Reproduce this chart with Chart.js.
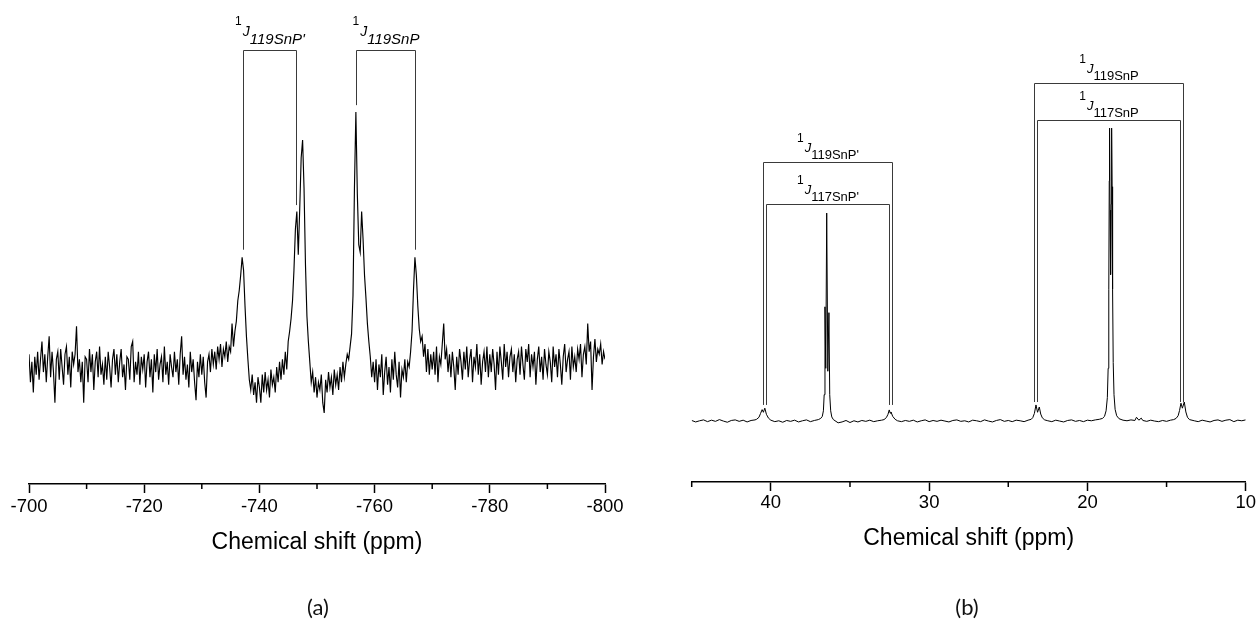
<!DOCTYPE html>
<html>
<head>
<meta charset="utf-8">
<script src="https://cdn.jsdelivr.net/npm/chart.js@4.4.1/dist/chart.umd.min.js"></script>
<style>
  body { margin: 0; background: #fff; width: 1258px; height: 623px; position: relative; overflow: hidden; }
  .panel { position: absolute; top: 0; width: 629px; height: 623px; }
  .tag { position: absolute; top: 593px; line-height: 28px; font-family: Lato, 'Open Sans', sans-serif; font-size: 22px; color: #111; transform: translateX(-50%); }
</style>
</head>
<body>
<div class="panel" style="left:0"><canvas id="chartA"></canvas></div>
<div class="panel" style="left:629px"><canvas id="chartB"></canvas></div>
<div class="tag" style="left:318px">(a)</div>
<div class="tag" style="left:967px">(b)</div>
<script>
// (a) 119Sn spectrum, sampled every 0.25 ppm from -700 ppm
const shiftStartA = -700;
const shiftStepA = -0.25;
const intensityA = [
  5, -6, 2, -10, 4, -3, 6, -5, 3, 10, -2, 5, -6, 4, 12, -4, 6, -2, -14, 3,      // -700
  6, -5, 7, 0, -7, 5, 8, -3, 4, -8, 6, 1, 5, 16, -2, 3, -6, 2, -14, 4,          // -705
  3, -6, 7, -2, 5, -9, 2, 6, -4, 8, -3, 1, -7, 4, -5, 6, 0, -8, 3, 7,           // -710
  -3, 5, -6, 2, 7, -4, 1, -9, 4, 3, -5, 8, 10, -6, 2, -3, 6, -7, 4, -1,         // -715
  5, -8, 2, 6, -4, 3, -10, 5, -2, 7, -5, 1, 4, -6, 8, -3, 2, -7, 5, 0,          // -720
  -4, 6, -2, 3, -7, 5, 12, -3, 4, -5, 1, -8, 6, -2, 3, -6, -13, 2, -4, 5,       // -725
  -3, 4, -6, -12, 2, 5, -2, 7, 1, 6, -1, 8, 3, 9, 0, 7, 4, 10, 2, 8,            // -730
  6, 17, 8, 14, 18, 26, 30, 36, 43, 38, 24, 12, 3, -5, -9, -3, -11, -6, -14, -4, // -735
  -8, -14, -3, -10, -2, -9, -5, -12, -1, -7, -4, -10, 0, -6, 2, -5, 3, -3, 6, -1, // -740
  10, 14, 19, 26, 38, 54, 61, 44, 62, 82, 89, 70, 40, 20, 10, 2, -6, -2, -10, -4, // -745
  -12, -6, -9, -3, -14, -18, -5, -10, -2, -8, -4, -11, -1, -7, -3, -9, 0, -6, 2, -4, // -750
  1, 5, 3, 8, 13, 28, 70, 100, 68, 48, 45, 61, 50, 36, 27, 17, 10, 4, -4, 2,    // -755
  -6, 3, -9, 1, -4, 5, -11, -2, 4, -7, 0, -10, 3, -5, 6, -3, -8, 2, -12, -1,    // -760
  -4, 3, -6, 2, 0, 6, 14, 30, 43, 36, 24, 15, 10, 12, 4, 9, -2, 7, -3, 5,       // -765
  -1, 6, -3, 8, -6, 4, 1, 9, 17, 3, 7, -2, 5, -4, 6, 0, -9, 4, -3, 7,           // -770
  2, -5, 6, -1, 8, -4, 3, 7, -6, 4, 0, 9, -3, 5, -7, 2, 6, -2, 8, -4,           // -775
  5, -2, 7, 1, -9, 6, -3, 8, 2, -5, 9, 0, 6, -4, 4, 7, -2, 5, -6, 3,            // -780
  6, -3, 8, 1, -5, 7, 2, 9, -4, 5, 0, 6, -7, 3, 8, -2, 4, -5, 7, 1,             // -785
  -3, 6, 2, -6, 8, 0, 5, -4, 7, 1, -7, 4, 9, -2, 3, 6, -5, 8, 0, 4,             // -790
  -2, 7, 3, 9, -4, 5, 8, 1, 17, 6, 10, -9, 4, 11, 2, 7, 5, 9, 1, 6,             // -795
  3                                                                              // -800
];
const ticksA = [-700, -720, -740, -760, -780, -800];
const minorTicksA = [-710, -730, -750, -770, -790];
const couplingsA = [
  { label: "119SnP'", from: -737.1, to: -746.4, top: 124.3, fromEnd: 46, toEnd: 63.5 },
  { label: '119SnP', from: -756.7, to: -767.1, top: 124.3, fromEnd: 102.7, toEnd: 46 }
];

// (b) 31P spectrum, [ppm, intensity]
const spectrumB = [
  [45.00, 0.2], [44.75, -0.3], [44.50, 0.1], [44.25, 0.4], [44.00, -0.2], [43.75, 0.3], [43.50, -0.1],
  [43.25, 0.5], [43.00, 0.0], [42.75, -0.4], [42.50, 0.2], [42.25, 0.4], [42.00, -0.1], [41.75, 0.3],
  [41.50, -0.3], [41.25, 0.2], [41.00, 0.4],
  [40.90, 0.6], [40.75, 1.3], [40.65, 2.6], [40.55, 3.9], [40.47, 3.0], [40.38, 4.4], [40.28, 2.3],
  [40.15, 1.0], [40.00, 0.3],
  [39.75, -0.2], [39.50, 0.1], [39.25, -0.4], [39.00, 0.2], [38.75, -0.1], [38.50, 0.3], [38.25, -0.3],
  [38.00, 0.1], [37.75, 0.4], [37.50, -0.2], [37.25, 0.2], [37.00, 0.5],
  [36.85, 0.9], [36.75, 1.6], [36.68, 3.5], [36.63, 9], [36.58, 39], [36.53, 18], [36.47, 71],
  [36.40, 17], [36.33, 37], [36.28, 9], [36.22, 3.5], [36.15, 1.4], [36.05, 0.5],
  [35.75, -0.6], [35.50, -0.3], [35.25, 0.2], [35.00, -0.5], [34.75, 0.1], [34.50, -0.3], [34.25, 0.2],
  [34.00, -0.1], [33.75, 0.3], [33.50, -0.2], [33.25, 0.1], [33.00, 0.3],
  [32.85, 0.5], [32.70, 1.2], [32.60, 2.3], [32.52, 3.8], [32.46, 2.7], [32.41, 3.1], [32.30, 1.6],
  [32.15, 0.6], [32.00, 0.1],
  [31.75, -0.2], [31.50, 0.2], [31.25, -0.1], [31.00, 0.3], [30.75, -0.3], [30.50, 0.1], [30.25, 0.4],
  [30.00, -0.2], [29.75, 0.2], [29.50, -0.1], [29.25, 0.3], [29.00, 0.0], [28.75, -0.3], [28.50, 0.2],
  [28.25, 0.4], [28.00, -0.1], [27.75, 0.1], [27.50, -0.3], [27.25, 0.3], [27.00, 0.1], [26.75, -0.2],
  [26.50, 0.4], [26.25, 0.0], [26.00, -0.3], [25.75, 0.2], [25.50, 0.5], [25.25, -0.1], [25.00, 0.2],
  [24.75, -0.2], [24.50, 0.3], [24.25, 0.1], [24.00, -0.2], [23.75, 0.3],
  [23.55, 0.6], [23.45, 1.2], [23.35, 2.6], [23.25, 5.5], [23.15, 3.0], [23.04, 4.8], [22.95, 2.4],
  [22.85, 1.1], [22.70, 0.4],
  [22.50, 0.1], [22.25, -0.2], [22.00, 0.3], [21.75, 0.0], [21.50, -0.3], [21.25, 0.2], [21.00, 0.4],
  [20.75, -0.1], [20.50, 0.2], [20.25, -0.2], [20.00, 0.3], [19.75, 0.1], [19.50, 0.4], [19.25, 0.6],
  [19.05, 0.9], [18.92, 1.6], [18.82, 3.5], [18.74, 8], [18.69, 18], [18.65, 45], [18.62, 82],
  [18.60, 100], [18.57, 72], [18.535, 50], [18.50, 74], [18.47, 100], [18.44, 80], [18.41, 45],
  [18.37, 20], [18.32, 9], [18.25, 4], [18.15, 1.8], [18.00, 0.8],
  [17.75, 0.3], [17.50, 0.1], [17.25, 0.4], [17.00, 0.2], [16.90, 1.3], [16.75, 0.3], [16.60, 1.0],
  [16.50, 0.2], [16.25, -0.1], [16.00, 0.3], [15.75, 0.0], [15.50, -0.2], [15.25, 0.2], [15.00, -0.1],
  [14.75, 0.3], [14.55, 0.5],
  [14.40, 0.9], [14.27, 1.8], [14.18, 3.6], [14.09, 6.1], [14.00, 4.4], [13.88, 6.5], [13.78, 3.1],
  [13.68, 1.3], [13.55, 0.5],
  [13.25, 0.1], [13.00, -0.2], [12.75, 0.3], [12.50, 0.0], [12.25, -0.3], [12.00, 0.2], [11.75, 0.4],
  [11.50, -0.1], [11.25, 0.3], [11.00, 0.5], [10.75, -0.2], [10.50, 0.3], [10.25, 0.1], [10.00, 0.4]
];
const ticksB = [40, 30, 20, 10];
const minorTicksB = [45, 35, 25, 15];
const couplingsB = [
  { label: "119SnP'", from: 40.52, to: 32.35, top: 88.4, fromEnd: 5.5, toEnd: 5.5 },
  { label: "117SnP'", from: 40.33, to: 32.52, top: 74.1, fromEnd: 5.5, toEnd: 5.5 },
  { label: '119SnP', from: 23.38, to: 13.95, top: 115.4, fromEnd: 6.5, toEnd: 6.5 },
  { label: '117SnP', from: 23.19, to: 14.13, top: 102.7, fromEnd: 6.5, toEnd: 6.5 }
];

const FONT = "'Liberation Sans', Arial, sans-serif";
Chart.defaults.font.family = FONT;

// brackets with 1J labels + short minor ticks
const nmrMarks = {
  id: 'nmrMarks',
  afterDraw(chart, args, opts) {
    const { ctx, scales: { x, y } } = chart;
    ctx.save();
    // minor ticks
    ctx.strokeStyle = '#000';
    ctx.lineWidth = 1.5;
    opts.minor.forEach(v => {
      const px = x.getPixelForValue(v);
      ctx.beginPath();
      ctx.moveTo(px, x.top);
      ctx.lineTo(px, x.top + 5);
      ctx.stroke();
    });
    // coupling brackets
    const L = opts.label;
    opts.brackets.forEach(b => {
      const x1 = Math.round(x.getPixelForValue(b.from)) + 0.5;
      const x2 = Math.round(x.getPixelForValue(b.to)) + 0.5;
      const yt = Math.round(y.getPixelForValue(b.top)) + 0.5;
      ctx.strokeStyle = '#3a3a3a';
      ctx.lineWidth = 1;
      ctx.beginPath();
      ctx.moveTo(x1, y.getPixelForValue(b.fromEnd));
      ctx.lineTo(x1, yt);
      ctx.lineTo(x2, yt);
      ctx.lineTo(x2, y.getPixelForValue(b.toEnd));
      ctx.stroke();

      ctx.fillStyle = '#000';
      ctx.textBaseline = 'alphabetic';
      ctx.textAlign = 'left';
      ctx.font = L.supFont; const w1 = ctx.measureText('1').width;
      ctx.font = L.jFont; const wJ = ctx.measureText('J').width;
      ctx.font = L.subFont; const wS = ctx.measureText(b.label).width;
      let tx = (x1 + x2) / 2 - (w1 + wJ + wS + 1) / 2;
      ctx.font = L.supFont; ctx.fillText('1', tx, yt - L.supRise);
      tx += w1 + 1;
      ctx.font = L.jFont; ctx.fillText('J', tx, yt - L.jRise);
      tx += wJ;
      ctx.font = L.subFont; ctx.fillText(b.label, tx, yt - L.subRise);
    });
    ctx.restore();
  }
};

function makeChart(id, points, o) {
  return new Chart(document.getElementById(id), {
    type: 'line',
    data: {
      datasets: [{
        data: points,
        borderColor: '#000',
        borderWidth: o.lineWidth,
        pointRadius: 0,
        tension: 0,
        fill: false
      }]
    },
    options: {
      responsive: true,
      maintainAspectRatio: false,
      animation: false,
      layout: { padding: o.padding },
      plugins: {
        legend: { display: false },
        tooltip: { enabled: false },
        nmrMarks: { brackets: o.brackets, minor: o.minor, label: o.label }
      },
      scales: {
        x: {
          type: 'linear',
          min: o.xMin,
          max: o.xMax,
          reverse: true,
          afterBuildTicks: s => { s.ticks = o.ticks.map(v => ({ value: v })); },
          afterFit: s => { s.height = o.axisHeight; },
          grid: { drawOnChartArea: false, drawTicks: true, tickLength: 9, tickColor: '#000', tickWidth: 1.5 },
          border: { display: true, color: '#000', width: 1.5 },
          ticks: { color: '#000', font: { size: 18.5 }, padding: o.tickPad, maxRotation: 0, autoSkip: false },
          title: {
            display: true,
            text: 'Chemical shift (ppm)',
            color: '#000',
            font: { size: 23 },
            padding: { top: 0, bottom: o.titlePad }
          }
        },
        y: { display: false, min: o.yMin, max: o.yMax }
      }
    },
    plugins: [nmrMarks]
  });
}

const pointsA = intensityA.map((v, i) => ({ x: shiftStartA + i * shiftStepA, y: v }));
const pointsB = spectrumB.map(([x, y]) => ({ x, y }));

makeChart('chartA', pointsA, {
  padding: { left: 29, right: 24, top: 20, bottom: 0 },
  xMin: -800, xMax: -700, ticks: ticksA, minor: minorTicksA, lineWidth: 1.15,
  yMin: -45.9, yMax: 136.1, axisHeight: 139, tickPad: 3, titlePad: 67,
  brackets: couplingsA,
  label: { supFont: '12px ' + FONT, jFont: 'italic 14px ' + FONT, subFont: 'italic 15px ' + FONT, supRise: 26, jRise: 15, subRise: 7 }
});

makeChart('chartB', pointsB, {
  padding: { left: 62.7, right: 12.3, top: 20, bottom: 0 },
  xMin: 10, xMax: 45, ticks: ticksB, minor: minorTicksB, lineWidth: 1,
  yMin: -20.8, yMax: 136.9, axisHeight: 141, tickPad: 1, titlePad: 71,
  brackets: couplingsB,
  label: { supFont: '12px ' + FONT, jFont: 'italic 13px ' + FONT, subFont: '13px ' + FONT, supRise: 21, jRise: 11, subRise: 4 }
});
</script>
</body>
</html>
